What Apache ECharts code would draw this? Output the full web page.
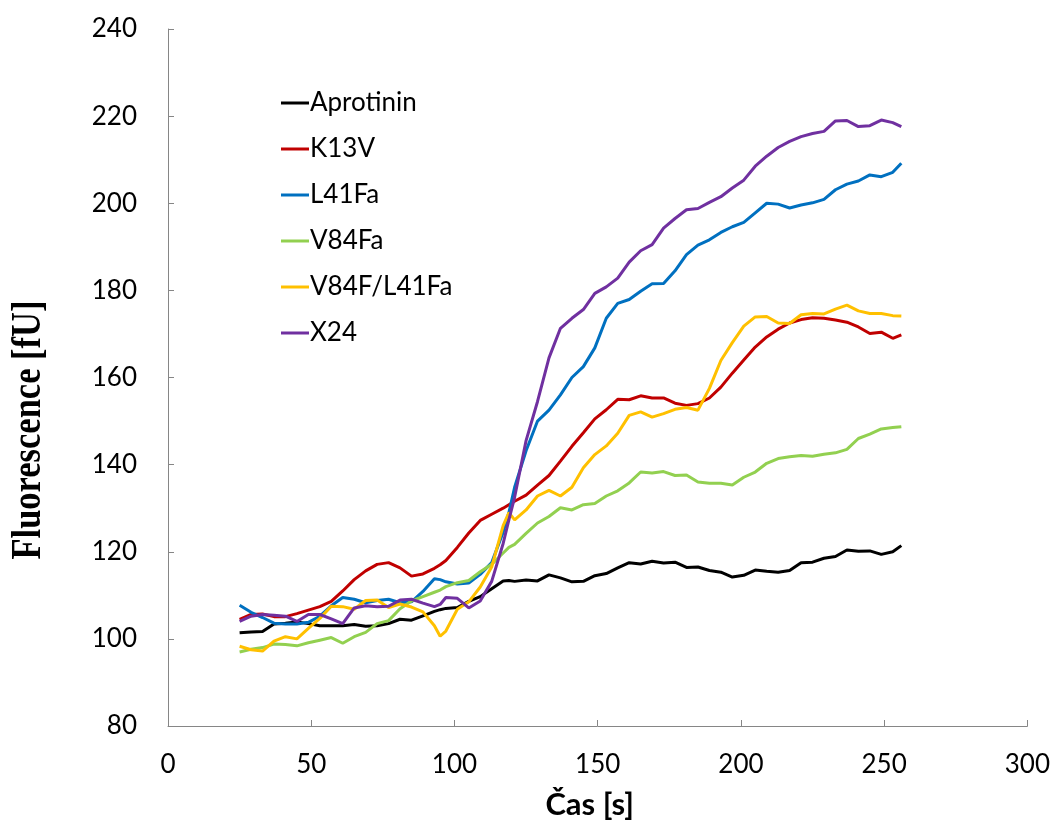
<!DOCTYPE html>
<html>
<head>
<meta charset="utf-8">
<script src="https://cdn.jsdelivr.net/npm/echarts@6/dist/echarts.min.js"></script>
<style>html,body{margin:0;padding:0;background:#fff;}#c{width:1053px;height:826px;}</style>
</head>
<body>
<div id="c"></div>
<script>
const times = [25,29,33,37,41,45,49,53,57,61,65,69,73,77,81,85,89,93,95,97,101,105,109,113,117,119,121,125,129,133,137,141,145,149,153,157,161,165,169,173,177,181,185,189,193,197,201,205,209,213,217,221,225,229,233,237,241,245,249,253,256];

const aprotinin = [101.4,101.6,101.7,103.4,103.6,103.9,103.5,103.0,103.0,103.0,103.3,102.9,103.0,103.5,104.5,104.3,105.3,106.3,106.7,107.0,107.2,108.6,109.7,111.5,113.3,113.4,113.2,113.5,113.3,114.7,114.0,113.1,113.2,114.5,115.0,116.3,117.5,117.2,117.8,117.4,117.6,116.4,116.5,115.7,115.3,114.2,114.6,115.8,115.5,115.3,115.7,117.5,117.6,118.5,118.9,120.4,120.1,120.2,119.4,120.0,121.4];

const k13v = [104.5,105.6,105.7,105.1,105.1,105.8,106.6,107.4,108.6,111.0,113.6,115.6,117.1,117.5,116.3,114.4,114.9,116.2,117.0,118.0,121.0,124.3,127.2,128.6,130.0,130.8,131.6,133.0,135.3,137.5,140.8,144.2,147.3,150.5,152.6,155.0,154.9,155.8,155.3,155.3,154.1,153.6,154.0,155.3,157.8,161.0,164.0,167.0,169.3,171.1,172.5,173.3,173.7,173.6,173.2,172.7,171.6,170.1,170.4,169.0,169.8];

const l41fa = [107.7,106.1,104.9,103.6,103.4,103.4,103.8,105.2,107.6,109.5,109.1,108.3,108.8,109.1,108.3,108.5,110.9,113.8,113.6,113.1,112.6,112.8,114.8,117.5,124.5,129.0,134.8,143.2,150.0,152.5,156.0,160.0,162.5,166.8,173.6,177.0,177.9,179.8,181.5,181.6,184.5,188.2,190.4,191.6,193.3,194.6,195.6,197.8,200.0,199.8,198.9,199.6,200.1,200.9,203.1,204.4,205.1,206.5,206.1,207.1,209.2];

const v84fa = [97.0,97.6,98.0,98.8,98.7,98.4,99.1,99.7,100.3,99.0,100.5,101.5,103.5,104.2,106.9,108.7,109.7,110.7,111.2,112.0,112.9,113.4,115.4,117.1,119.7,121.0,121.7,124.2,126.6,128.1,130.1,129.6,130.8,131.1,132.8,134.0,135.8,138.3,138.1,138.4,137.5,137.6,136.0,135.7,135.7,135.3,137.1,138.3,140.3,141.4,141.8,142.1,141.9,142.4,142.7,143.5,146.0,147.0,148.2,148.5,148.7];

const v84fL41fa = [98.3,97.5,97.2,99.5,100.5,100.0,102.4,104.7,107.5,107.4,106.8,108.8,108.9,107.2,108.0,107.3,106.2,103.0,100.6,101.8,106.8,108.5,111.9,116.5,126.0,129.0,127.3,129.6,132.8,134.1,132.8,134.8,139.3,142.3,144.3,147.2,151.3,152.1,150.9,151.7,152.7,153.1,152.5,157.5,163.9,168.0,171.8,173.9,174.0,172.5,172.4,174.4,174.7,174.6,175.7,176.6,175.3,174.7,174.7,174.2,174.1];

const x24 = [104.0,105.2,105.6,105.4,105.2,104.0,105.6,105.6,104.6,103.5,107.1,107.6,107.4,107.5,108.9,109.1,108.2,107.4,107.9,109.5,109.3,107.1,108.7,113.2,121.9,127.3,132.5,145.5,154.5,164.5,171.3,173.6,175.6,179.3,180.8,182.8,186.5,189.1,190.5,194.3,196.5,198.5,198.8,200.2,201.5,203.5,205.3,208.5,210.8,212.8,214.2,215.3,216.0,216.5,218.9,219.0,217.6,217.8,219.1,218.5,217.6];

const seriesNames = ['Aprotinin','K13V','L41Fa','V84Fa','V84F/L41Fa','X24'];
const seriesValues = [aprotinin,k13v,l41fa,v84fa,v84fL41fa,x24];
const seriesColors = ['#000000','#C00000','#0070C0','#92D050','#FFC000','#7030A0'];

const xTitle = 'Čas [s]';
const yTitle = 'Fluorescence [fU]';

const chart = echarts.init(document.getElementById('c'), null, {renderer:'canvas'});
const font = 'Lato, "Open Sans", sans-serif';

chart.setOption({
  animation:false,
  backgroundColor:'#ffffff',
  grid:{left:168, right:24.5, top:29, bottom:100, containLabel:false},
  legend:{
    orient:'vertical', left:276, top:83,
    itemWidth:28, itemHeight:3, icon:'rect', itemGap:16,
    textStyle:{fontFamily:font, fontSize:26, color:'#000', lineHeight:30, padding:[0,0,0,-4]},
    data:seriesNames
  },
  xAxis:{
    type:'value', min:0, max:300, interval:50,
    name:xTitle, nameLocation:'middle', nameGap:63,
    nameTextStyle:{fontFamily:font, fontSize:31, fontWeight:'bold', color:'#000', padding:[0,16,0,0]},
    axisLine:{show:true, lineStyle:{color:'#868686', width:1}},
    axisTick:{show:true, inside:true, length:6, lineStyle:{color:'#868686'}},
    axisLabel:{fontFamily:font, fontSize:26, color:'#000', margin:26},
    splitLine:{show:false}
  },
  yAxis:{
    type:'value', min:80, max:240, interval:20,
    axisLine:{show:true, lineStyle:{color:'#868686', width:1}},
    axisTick:{show:true, inside:true, length:6, lineStyle:{color:'#868686'}},
    axisLabel:{fontFamily:font, fontSize:26, color:'#000', margin:31},
    splitLine:{show:false}
  },
  graphic:[{
    type:'text', x:29, y:430, rotation:Math.PI/2, scaleX:1.15, scaleY:1.4,
    style:{text:yTitle, font:'bold 30px "Liberation Serif", "DejaVu Serif", serif', fill:'#000', textAlign:'center', textVerticalAlign:'middle'}
  }],
  series: seriesNames.map((n,i)=>({
    name:n, type:'line', showSymbol:false, symbol:'none',
    data: times.map((t,j)=>[t, seriesValues[i][j]]),
    lineStyle:{color:seriesColors[i], width:3},
    itemStyle:{color:seriesColors[i]}
  }))
});
</script>
</body>
</html>
